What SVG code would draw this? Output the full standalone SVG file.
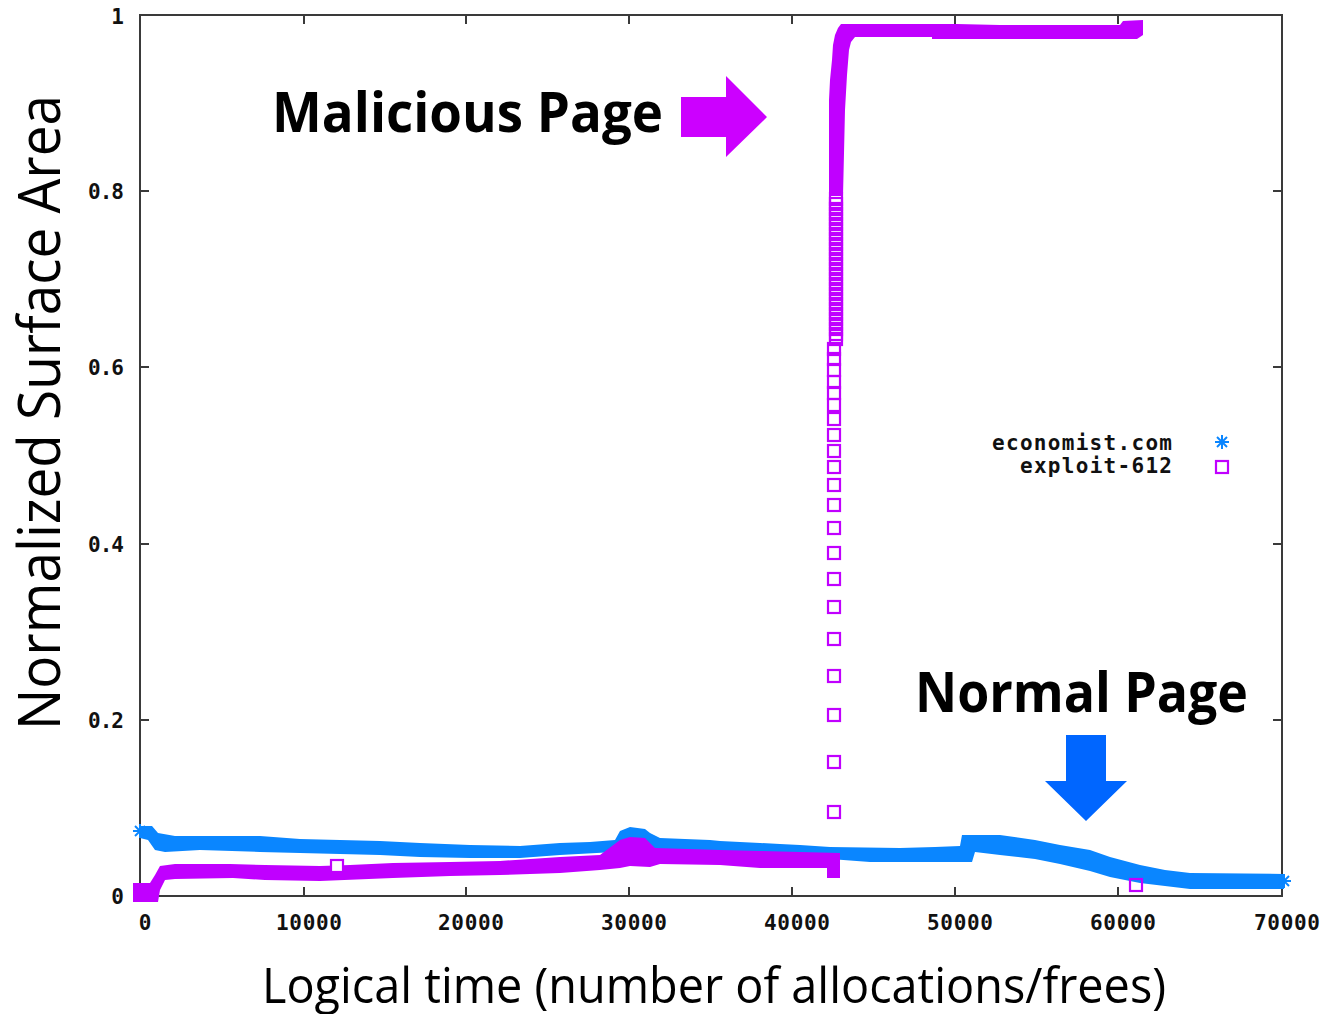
<svg xmlns="http://www.w3.org/2000/svg" width="1324" height="1014" viewBox="0 0 1324 1014">
  <style>
    .frame { fill: none; stroke: #3a3a3a; stroke-width: 2; }
    .tick { stroke: #3a3a3a; stroke-width: 2; }
    .tl { font-family: "DejaVu Sans Mono", "Liberation Mono", monospace; font-weight: bold; font-size: 21px; fill: #111; }
    .lg { font-family: "DejaVu Sans Mono", "Liberation Mono", monospace; font-weight: bold; font-size: 21px; fill: #111; }
    .blue { fill: #0a86ff; }
    .purple { fill: #c000ff; }
    .sq { fill: none; stroke: #c000ff; stroke-width: 2.2; }
    .star { stroke: #0a86ff; stroke-width: 2; fill: none; }
    .callout { font-family: "Open Sans", "Liberation Sans", sans-serif; font-weight: bold; font-size: 56px; fill: #000; }
    .axislabel { font-family: "Open Sans", "Liberation Sans", sans-serif; fill: #000; }
  </style>
  <defs>
    <rect id="box" x="-6" y="-6" width="12" height="12" class="sq"/>
    <g id="ast">
      <line x1="-7" y1="0" x2="7" y2="0"/>
      <line x1="0" y1="-7" x2="0" y2="7"/>
      <line x1="-5" y1="-5" x2="5" y2="5"/>
      <line x1="-5" y1="5" x2="5" y2="-5"/>
    </g>
  </defs>
  <rect width="1324" height="1014" fill="#fff"/>

  <!-- plot frame and ticks -->
  <g id="axes">
    <rect class="frame" x="140" y="15" width="1142" height="881"/>
    <g class="tick">
      <line x1="140" y1="191" x2="149" y2="191"/>
      <line x1="140" y1="367" x2="149" y2="367"/>
      <line x1="140" y1="544" x2="149" y2="544"/>
      <line x1="140" y1="720" x2="149" y2="720"/>
      <line x1="1273" y1="191" x2="1282" y2="191"/>
      <line x1="1273" y1="367" x2="1282" y2="367"/>
      <line x1="1273" y1="544" x2="1282" y2="544"/>
      <line x1="1273" y1="720" x2="1282" y2="720"/>
      <line x1="304" y1="887" x2="304" y2="896"/>
      <line x1="466" y1="887" x2="466" y2="896"/>
      <line x1="629" y1="887" x2="629" y2="896"/>
      <line x1="792" y1="887" x2="792" y2="896"/>
      <line x1="955" y1="887" x2="955" y2="896"/>
      <line x1="1118" y1="887" x2="1118" y2="896"/>
      <line x1="304" y1="15" x2="304" y2="24"/>
      <line x1="466" y1="15" x2="466" y2="24"/>
      <line x1="629" y1="15" x2="629" y2="24"/>
      <line x1="792" y1="15" x2="792" y2="24"/>
      <line x1="955" y1="15" x2="955" y2="24"/>
      <line x1="1118" y1="15" x2="1118" y2="24"/>
    </g>
  </g>

  <!-- tick labels -->
  <g id="y-ticks" class="tl" text-anchor="end">
    <text x="124" y="24">1</text>
    <text x="124" y="199" textLength="36">0.8</text>
    <text x="124" y="375" textLength="36">0.6</text>
    <text x="124" y="552" textLength="36">0.4</text>
    <text x="124" y="728" textLength="36">0.2</text>
    <text x="124" y="904">0</text>
  </g>
  <g id="x-ticks" class="tl" text-anchor="middle">
    <text x="145" y="930">0</text>
    <text x="309" y="930" textLength="66">10000</text>
    <text x="471" y="930" textLength="66">20000</text>
    <text x="634" y="930" textLength="66">30000</text>
    <text x="797" y="930" textLength="66">40000</text>
    <text x="960" y="930" textLength="66">50000</text>
    <text x="1123" y="930" textLength="66">60000</text>
    <text x="1287" y="930" textLength="66">70000</text>
  </g>

  <!-- series: economist.com -->
  <g id="series-economist">
    <polygon class="blue" points="140,826 152,826 158,833 175,836 260,836 300,839 380,841 420,843 470,845 520,846 560,843 590,842 615,840 620,831 630,827 645,829 650,833 660,838 710,840 720,841 760,843 780,844 800,845 830,847 900,848 935,847 960,846 962,835 1000,835 1035,840 1060,845 1090,850 1110,857 1140,865 1165,870 1190,873 1284,874 1284,889 1190,889 1165,886 1140,883 1110,877 1090,871 1060,864 1035,859 1000,855 975,852 972,862 935,862 900,862 870,862 830,859 800,857 760,855 720,852 700,850 660,850 650,847 630,845 615,852 560,855 520,858 470,858 420,857 380,855 300,853 260,852 200,850 165,852 155,850 148,840 140,838"/>
    <use href="#ast" class="star" x="140" y="831"/>
    <use href="#ast" class="star" x="1284" y="881"/>
  </g>

  <!-- series: exploit-612 -->
  <g id="series-exploit">
    <polygon class="purple" points="133,883 150,883 155,875 160,866 175,864 230,864 265,865 320,866 350,865 393,863 450,862 500,861 560,857 600,855 620,840 630,837 645,838 655,848 720,850 760,851 800,852 840,853 840,878 827,878 827,868 760,868 720,865 660,864 650,867 630,866 620,868 600,870 560,873 500,875 450,876 393,878 320,881 265,880 233,878 175,879 165,880 160,890 158,902 133,902"/>
    <rect x="331" y="860" width="12" height="12" fill="#fff" stroke="#c000ff" stroke-width="2.2"/>
    <polygon class="purple" points="829,196 829,100 830,80 832,60 833,45 835,35 838,28 841,24 957,24 1000,25 1120,25 1123,21 1143,20 1143,35 1137,39 932,39 932,37 855,37 851,42 849,50 847,75 845,110 843,196"/>
    <!-- densely packed markers along the climb -->
    <g>
      <use href="#box" x="836" y="199"/><use href="#box" x="836" y="204"/><use href="#box" x="836" y="209"/>
      <use href="#box" x="836" y="214"/><use href="#box" x="836" y="219"/><use href="#box" x="836" y="224"/>
      <use href="#box" x="836" y="229"/><use href="#box" x="836" y="234"/><use href="#box" x="836" y="239"/>
      <use href="#box" x="836" y="244"/><use href="#box" x="836" y="249"/><use href="#box" x="836" y="254"/>
      <use href="#box" x="836" y="259"/><use href="#box" x="836" y="264"/><use href="#box" x="836" y="269"/>
      <use href="#box" x="836" y="274"/><use href="#box" x="836" y="279"/><use href="#box" x="836" y="284"/>
      <use href="#box" x="836" y="289"/><use href="#box" x="836" y="294"/><use href="#box" x="836" y="299"/>
      <use href="#box" x="836" y="304"/><use href="#box" x="836" y="309"/><use href="#box" x="836" y="314"/>
      <use href="#box" x="836" y="319"/><use href="#box" x="836" y="324"/><use href="#box" x="836" y="329"/>
      <use href="#box" x="836" y="334"/><use href="#box" x="836" y="339"/>
      <use href="#box" x="834" y="349"/><use href="#box" x="834" y="359"/><use href="#box" x="834" y="370"/>
      <use href="#box" x="834" y="382"/><use href="#box" x="834" y="393"/><use href="#box" x="834" y="405"/>
      <use href="#box" x="834" y="419"/><use href="#box" x="834" y="435"/><use href="#box" x="834" y="451"/>
      <use href="#box" x="834" y="467"/><use href="#box" x="834" y="485"/><use href="#box" x="834" y="505"/>
      <use href="#box" x="834" y="528"/><use href="#box" x="834" y="553"/><use href="#box" x="834" y="579"/>
      <use href="#box" x="834" y="607"/><use href="#box" x="834" y="639"/><use href="#box" x="834" y="676"/>
      <use href="#box" x="834" y="715"/><use href="#box" x="834" y="762"/><use href="#box" x="834" y="812"/>
    </g>
    <use href="#box" x="1136" y="885"/>
  </g>

  <!-- legend -->
  <g id="legend">
    <text class="lg" x="1172" y="450" text-anchor="end" textLength="180">economist.com</text>
    <text class="lg" x="1172" y="473" text-anchor="end" textLength="152">exploit-612</text>
    <use href="#ast" class="star" x="1222" y="442"/>
    <use href="#box" x="1222" y="467"/>
  </g>

  <!-- callouts -->
  <g id="malicious-page">
    <text class="callout" x="272" y="132" textLength="391" lengthAdjust="spacingAndGlyphs">Malicious Page</text>
    <polygon points="681,97 726,97 726,76 767,117 726,157 726,137 681,137" fill="#cc00ff"/>
  </g>
  <g id="normal-page">
    <text class="callout" x="915" y="712" textLength="333" lengthAdjust="spacingAndGlyphs">Normal Page</text>
    <polygon points="1066,735 1106,735 1106,781 1127,781 1086,821 1045,781 1066,781" fill="#0066ff"/>
  </g>

  <!-- axis titles -->
  <text class="axislabel" x="262" y="1003" font-size="50" textLength="904" lengthAdjust="spacingAndGlyphs">Logical time (number of allocations/frees)</text>
  <text class="axislabel" transform="translate(60,412.5) rotate(-90)" text-anchor="middle" font-size="58" textLength="635" lengthAdjust="spacingAndGlyphs">Normalized Surface Area</text>
</svg>
